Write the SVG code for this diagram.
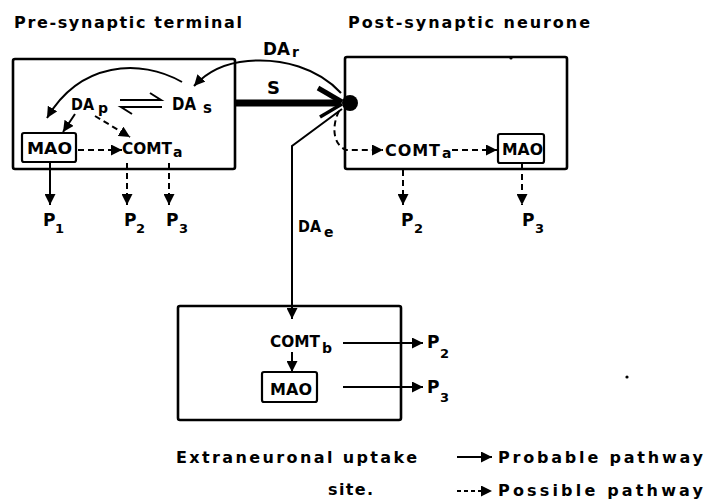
<svg xmlns="http://www.w3.org/2000/svg" width="707" height="499" viewBox="0 0 707 499">
<style>
.t{font-family:"DejaVu Sans","Liberation Sans",sans-serif;font-weight:bold;fill:#000}
.box{fill:none;stroke:#000;stroke-width:2.6}
.ebox{fill:none;stroke:#000;stroke-width:2.2}
.ln{fill:none;stroke:#000;stroke-width:2}
.ds{fill:none;stroke:#000;stroke-width:2;stroke-dasharray:6 4}
</style>
<defs>
<marker id="ah" markerUnits="userSpaceOnUse" markerWidth="11" markerHeight="11" viewBox="0 0 10 10" refX="10" refY="5" orient="auto">
<path d="M0,0 L10,5 L0,10 z" fill="#000"/>
</marker>
</defs>
<rect width="707" height="499" fill="#fff"/>

<g id="pre-terminal">
<text class="t" x="14" y="28" font-size="16" textLength="228" lengthAdjust="spacing">Pre-synaptic terminal</text>
<rect class="box" x="13" y="59" width="222" height="110" rx="2"/>
<text class="t" x="71" y="110" font-size="16" textLength="23" lengthAdjust="spacingAndGlyphs">DA</text>
<text class="t" x="98" y="113" font-size="14">p</text>
<text class="t" x="172" y="110" font-size="17" textLength="24" lengthAdjust="spacingAndGlyphs">DA</text>
<text class="t" x="203" y="113" font-size="15">s</text>
<g id="mao-pre">
<rect class="ebox" x="22" y="133" width="54" height="29" rx="2"/>
<text class="t" x="27" y="154" font-size="16" textLength="45" lengthAdjust="spacingAndGlyphs">MAO</text>
</g>
<text class="t" x="122" y="154" font-size="16" textLength="50" lengthAdjust="spacingAndGlyphs">COMT</text>
<text class="t" x="173" y="157" font-size="14">a</text>
<text class="t" x="43" y="226" font-size="17">P</text>
<text class="t" x="55" y="233" font-size="13">1</text>
<text class="t" x="124" y="226" font-size="17">P</text>
<text class="t" x="136" y="233" font-size="13">2</text>
<text class="t" x="166" y="226" font-size="17">P</text>
<text class="t" x="179" y="233" font-size="13">3</text>
</g>

<g id="post-neurone">
<text class="t" x="348" y="28" font-size="16" textLength="242" lengthAdjust="spacing">Post-synaptic neurone</text>
<rect class="box" x="345" y="57" width="222" height="112" rx="2"/>
<circle cx="511" cy="58" r="1.6" fill="#000"/>
<text class="t" x="385" y="156" font-size="16" textLength="55" lengthAdjust="spacing">COMT</text>
<text class="t" x="442" y="158" font-size="14">a</text>
<g id="mao-post">
<rect class="ebox" x="498" y="134" width="46" height="29" rx="2"/>
<text class="t" x="502" y="155" font-size="16" textLength="41" lengthAdjust="spacingAndGlyphs">MAO</text>
</g>
<text class="t" x="401" y="226" font-size="17">P</text>
<text class="t" x="414" y="233" font-size="13">2</text>
<text class="t" x="522" y="226" font-size="17">P</text>
<text class="t" x="535" y="233" font-size="13">3</text>
</g>

<g id="extraneuronal">
<rect class="box" x="178" y="306" width="223" height="114" rx="2"/>
<text class="t" x="270" y="347" font-size="16" textLength="50" lengthAdjust="spacingAndGlyphs">COMT</text>
<text class="t" x="322" y="353" font-size="14">b</text>
<g id="mao-extra">
<rect class="ebox" x="262" y="372" width="55" height="30" rx="2"/>
<text class="t" x="270" y="395" font-size="16" textLength="42" lengthAdjust="spacing">MAO</text>
</g>
<text class="t" x="427" y="348" font-size="17">P</text>
<text class="t" x="440" y="358" font-size="13">2</text>
<text class="t" x="427" y="393" font-size="17">P</text>
<text class="t" x="440" y="402" font-size="13">3</text>
<text class="t" x="176" y="463" font-size="16" textLength="241" lengthAdjust="spacing">Extraneuronal uptake</text>
<text class="t" x="328" y="495" font-size="16" textLength="45" lengthAdjust="spacing">site.</text>
</g>

<g id="labels">
<text class="t" x="263" y="55" font-size="17" textLength="27" lengthAdjust="spacingAndGlyphs">DA</text>
<text class="t" x="292" y="57" font-size="14">r</text>
<text class="t" x="267" y="94" font-size="18">S</text>
<text class="t" x="298" y="232" font-size="15" textLength="23" lengthAdjust="spacingAndGlyphs">DA</text>
<text class="t" x="324" y="237" font-size="14">e</text>
</g>

<g id="connectors">
<path class="ln" d="M341 93 C318 68 282 58 248 61 C224 63 206 73 194 86" marker-end="url(#ah)"/>
<path class="ln" d="M182 82 C140 58 80 62 47 118" marker-end="url(#ah)"/>
<path class="ln" d="M120 100 L161 100 L150 93"/>
<path class="ln" d="M162 107 L121 107 L132 114"/>
<path class="ln" d="M75 114 L63 132" marker-end="url(#ah)"/>
<path class="ds" d="M95 116 L130 137" marker-end="url(#ah)"/>
<path class="ds" d="M78 150 L122 150" marker-end="url(#ah)"/>
<path class="ln" d="M50 162 L50 205" marker-end="url(#ah)"/>
<path class="ds" d="M127 163 L127 205" marker-end="url(#ah)"/>
<path class="ds" d="M169 163 L169 205" marker-end="url(#ah)"/>
<path d="M235 103 L340 103" stroke="#000" stroke-width="7" fill="none"/>
<path d="M318 88 L342 102" stroke="#000" stroke-width="5" fill="none"/>
<path d="M320 117 L342 104" stroke="#000" stroke-width="3.5" fill="none"/>
<circle cx="350" cy="103" r="8" fill="#000"/>
<path class="ln" d="M342 109 L292 146 L292 319" marker-end="url(#ah)"/>
<path class="ds" d="M339 111 C332 125 332 144 346 150 L383 150" marker-end="url(#ah)"/>
<path class="ds" d="M452 150 L497 150" marker-end="url(#ah)"/>
<path class="ds" d="M403 170 L403 205" marker-end="url(#ah)"/>
<path class="ds" d="M522 164 L522 205" marker-end="url(#ah)"/>
<path class="ln" d="M292 352 L292 372" marker-end="url(#ah)"/>
<path class="ln" d="M343 343 L423 343" marker-end="url(#ah)"/>
<path class="ln" d="M343 387 L423 387" marker-end="url(#ah)"/>
</g>

<g id="legend">
<path class="ln" d="M457 457 L492 457" marker-end="url(#ah)"/>
<text class="t" x="498" y="463" font-size="16" textLength="205" lengthAdjust="spacing">Probable pathway</text>
<path class="ln" d="M457 491 L492 491" stroke-dasharray="4 3" marker-end="url(#ah)"/>
<text class="t" x="498" y="496" font-size="16" textLength="205" lengthAdjust="spacing">Possible pathway</text>
</g>
<circle cx="627" cy="377" r="1.6" fill="#000"/>
</svg>
